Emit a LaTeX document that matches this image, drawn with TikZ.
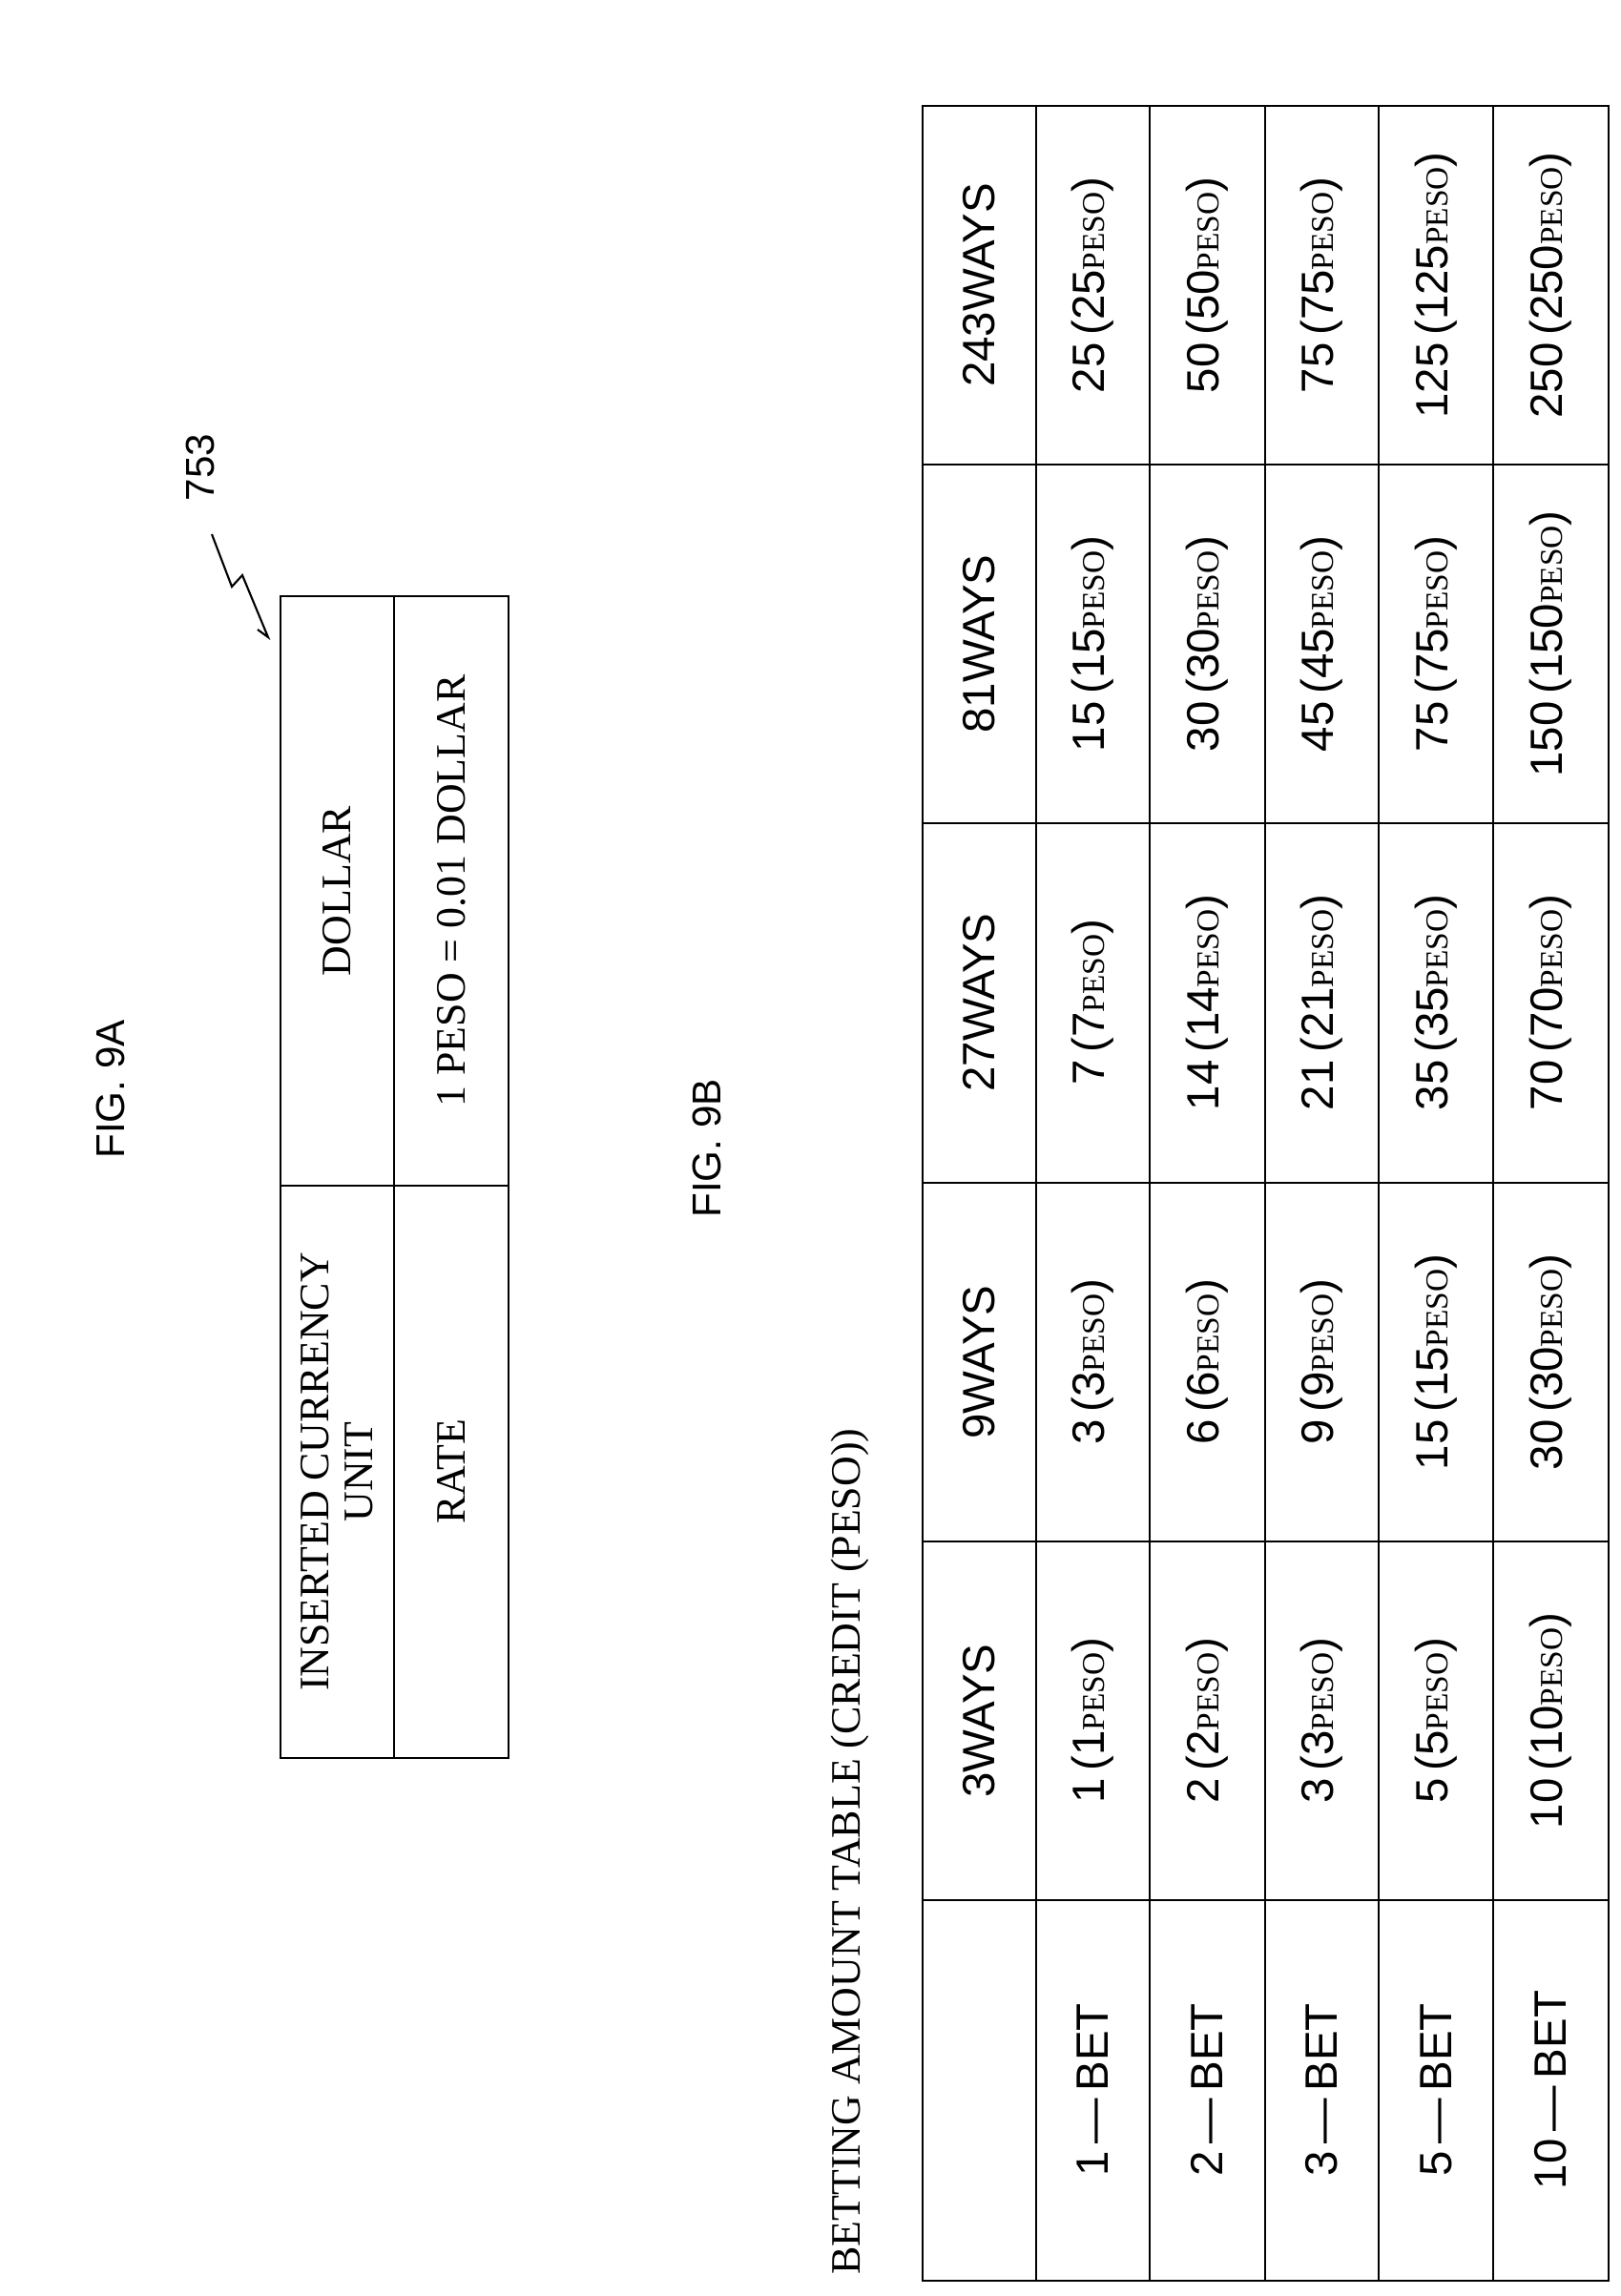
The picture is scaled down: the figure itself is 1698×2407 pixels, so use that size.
\documentclass[tikz,border=0pt]{standalone}
\usepackage{fontspec}
\setmainfont{Liberation Serif}
\setsansfont{Liberation Sans}
\usetikzlibrary{positioning}
\newcommand{\peso}{{\rmfamily\fontsize{19}{22}\selectfont PESO}}
\tikzset{grid/.style={line width=1.6pt}, cell/.style={rotate=90, inner sep=0pt, font=\sffamily\fontsize{27}{32}\selectfont}, serifcell/.style={rotate=90, inner sep=0pt, align=center, font=\rmfamily\fontsize{25}{26}\selectfont}}

\begin{document}
\begin{tikzpicture}[x={(0.02cm,0)}, y={(0,-0.02cm)}]
	\useasboundingbox (0,0) rectangle (1698,2407);
	% FIG. 9A
	\node[cell, font=\sffamily\fontsize{24}{28}\selectfont] (fig9a) at (116,1142) {FIG. 9A};
	\draw[grid] (294,625) rectangle (533,1843);
	\draw[grid] (413,625) -- (413,1843);
	\draw[grid] (294,1243) -- (533,1243);
	\node[serifcell] (unit) at (353,1543) {INSERTED CURRENCY\\UNIT};
	\node[serifcell] (dollar) at (353,934) {DOLLAR};
	\node[serifcell] (rate) at (473,1543) {RATE};
	\node[serifcell] (conv) at (473,934) {1 PESO = 0.01 DOLLAR};
	\node[cell, font=\sffamily\fontsize{24}{28}\selectfont] (ref753) at (210,490) {753};
	\draw[line width=1.2pt] (222,560) -- (243,615) -- (254,603) -- (281,668) -- (270,660);
	% FIG. 9B
	\node[cell, font=\sffamily\fontsize{24}{28}\selectfont] (fig9b) at (741,1204) {FIG. 9B};
	\node[serifcell, anchor=west] (title) at (891,2385) {BETTING AMOUNT TABLE (CREDIT (PESO))};
	\draw[grid] (967,111) rectangle (1686,2391);
	\foreach \xx in {1086,1205,1326,1445,1565}
		\draw[grid] (\xx,111) -- (\xx,2391);
	\foreach \yy in {487,863,1240,1616,1992}
		\draw[grid] (967,\yy) -- (1686,\yy);
	\foreach \ways/\yy in {3/1804,9/1428,27/1051,81/675,243/299}
		\node[cell] (head\ways) at (1026,\yy) {\ways WAYS};
	\foreach \bet/\xx in {1/1145,2/1265,3/1385,5/1505,10/1625}{
		\node[cell] (bet\bet) at (\xx,2191) {\bet\,---\,BET};
		\foreach \ways/\m/\yy in {3/1/1804,9/3/1428,27/7/1051,81/15/675,243/25/299}{
			\pgfmathtruncatemacro\amt{\bet*\m}
			\node[cell] (c\bet-\ways) at (\xx,\yy) {\amt\,(\amt\peso)};
		}
	}
\end{tikzpicture}
\end{document}
